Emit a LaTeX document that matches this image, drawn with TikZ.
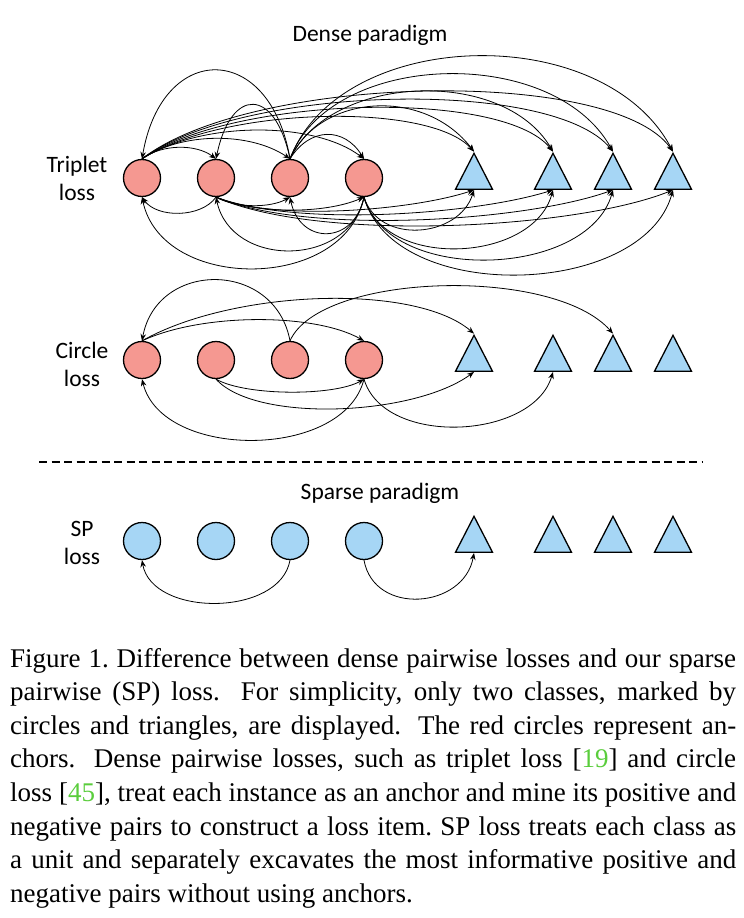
\documentclass[tikz,border=0pt]{standalone}
\usepackage{fontspec}
\setmainfont{Liberation Serif}
\newfontfamily\labelfont{Carlito}
\usetikzlibrary{arrows.meta,shapes.geometric}
\definecolor{anchorred}{RGB}{245,152,145}
\definecolor{sampleblue}{RGB}{166,214,245}
\definecolor{citegreen}{RGB}{90,205,60}
\tikzset{
	redcirc/.style={
		circle,
		draw=black,
		line width=1.3pt,
		fill=anchorred,
		minimum size=37pt,
		inner sep=0pt
	},
	bluecirc/.style={
		redcirc,
		fill=sampleblue
	},
	tri/.style={
		isosceles triangle,
		isosceles triangle stretches,
		shape border rotate=90,
		draw=black,
		line width=1.3pt,
		fill=sampleblue,
		minimum width=37pt,
		minimum height=36pt,
		inner sep=0pt
	},
	arrow/.style={
		draw=black,
		line width=0.8pt,
		-{Stealth[length=7pt,width=5.5pt]}
	},
	rowlabel/.style={
		font=\labelfont\fontsize{23.5}{28}\selectfont,
		align=center
	},
	title/.style={
		font=\labelfont\fontsize{23.5}{28}\selectfont
	},
}

\begin{document}
\begin{tikzpicture}[x=1pt,y=-1pt]
\useasboundingbox (0,0) rectangle (744,918);

% nodes of the three rows
\foreach \i/\x in {1/142,2/216,3/290,4/364} {
	\node [redcirc] (tc\i) at (\x,178) {};
	\node [redcirc] (cc\i) at (\x,360) {};
	\node [bluecirc] (sc\i) at (\x,541) {};
}
\foreach \i/\x in {1/474,2/553,3/613,4/673} {
	\node [tri] (tt\i) at (\x,178) {};
	\node [tri] (ct\i) at (\x,360) {};
	\node [tri] (st\i) at (\x,541) {};
}

\node [title] (dense) at (370,35) {Dense paradigm};
\node [rowlabel] (tlab) at (77,178) {Triplet\\loss};
\node [rowlabel] (clab) at (82,364) {Circle\\loss};
\node [title] (sparse) at (380,493) {Sparse paradigm};
\node [rowlabel] (slab) at (82,543) {SP\\loss};

% triplet loss, anchors 1 and 3 (above)
\draw[arrow] (tc1.north) .. controls +(20,-15) and +(-20,-15) .. (tc2.north);
\draw[arrow] (tc1.north) .. controls +(40,-27) and +(-40,-27) .. (tc3.north);
\draw[arrow] (tc1.north) .. controls +(60,-38) and +(-50,-38) .. (tc4.north);
\draw[arrow] (tc1.north) .. controls +(80,-52) and +(-45,-50) .. (tt1.north);
\draw[arrow] (tc1.north) .. controls +(90,-63) and +(-50,-63) .. (tt2.north);
\draw[arrow] (tc1.north) .. controls +(100,-74) and +(-60,-74) .. (tt3.north);
\draw[arrow] (tc1.north) .. controls +(110,-85) and +(-60,-85) .. (tt4.north);
\draw[arrow] (tc3.north) .. controls +(-20,-118) and +(20,-118) .. (tc1.north);
\draw[arrow] (tc3.north) .. controls +(-15,-72) and +(15,-72) .. (tc2.north);
\draw[arrow] (tc3.north) .. controls +(20,-32) and +(-20,-32) .. (tc4.north);
\draw[arrow] (tc3.north) .. controls +(30,-65) and +(-50,-65) .. (tt1.north);
\draw[arrow] (tc3.north) .. controls +(40,-85) and +(-50,-85) .. (tt2.north);
\draw[arrow] (tc3.north) .. controls +(40,-108) and +(-60,-108) .. (tt3.north);
\draw[arrow] (tc3.north) .. controls +(50,-132) and +(-70,-132) .. (tt4.north);

% triplet loss, anchors 2 and 4 (below)
\draw[arrow] (tc2.south) .. controls +(-15,21) and +(15,21) .. (tc1.south);
\draw[arrow] (tc2.south) .. controls +(20,11) and +(-20,11) .. (tc3.south);
\draw[arrow] (tc2.south) .. controls +(40,17) and +(-40,17) .. (tc4.south);
\draw[arrow] (tc2.south) .. controls +(60,25) and +(-60,20) .. (tt1.south);
\draw[arrow] (tc2.south) .. controls +(80,30) and +(-80,25) .. (tt2.south);
\draw[arrow] (tc2.south) .. controls +(90,38) and +(-90,32) .. (tt3.south);
\draw[arrow] (tc2.south) .. controls +(100,45) and +(-100,40) .. (tt4.south);
\draw[arrow] (tc4.south) .. controls +(-10,48) and +(10,48) .. (tc3.south);
\draw[arrow] (tc4.south) .. controls +(-15,71) and +(15,71) .. (tc2.south);
\draw[arrow] (tc4.south) .. controls +(-20,95) and +(20,95) .. (tc1.south);
\draw[arrow] (tc4.south) .. controls +(15,48) and +(-15,48) .. (tt1.south);
\draw[arrow] (tc4.south) .. controls +(20,73) and +(-20,73) .. (tt2.south);
\draw[arrow] (tc4.south) .. controls +(25,88) and +(-25,88) .. (tt3.south);
\draw[arrow] (tc4.south) .. controls +(30,108) and +(-30,108) .. (tt4.south);

% circle loss
\draw[arrow] (cc3.north) .. controls +(-15,-81) and +(15,-81) .. (cc1.north);
\draw[arrow] (cc1.north) .. controls +(60,-28) and +(-50,-28) .. (cc4.north);
\draw[arrow] (cc1.north) .. controls +(90,-51) and +(-60,-51) .. (ct1.north);
\draw[arrow] (cc3.north) .. controls +(30,-68) and +(-60,-68) .. (ct3.north);
\draw[arrow] (cc2.south) .. controls +(30,17) and +(-30,17) .. (cc4.south);
\draw[arrow] (cc2.south) .. controls +(40,44) and +(-60,44) .. (ct1.south);
\draw[arrow] (cc4.south) .. controls +(-20,81) and +(20,81) .. (cc1.south);
\draw[arrow] (cc4.south) .. controls +(20,68) and +(-20,68) .. (ct2.south);

% separator
\coordinate (sepL) at (39,462);
\coordinate (sepR) at (703,462);
\draw[line width=1.3pt,dash pattern=on 8pt off 4.5pt] (sepL) -- (sepR);

% sp loss
\draw[arrow] (sc3.south) .. controls +(-10,57) and +(10,57) .. (sc1.south);
\draw[arrow] (sc4.south) .. controls +(10,56) and +(-10,56) .. (st1.south);

% caption
\node [anchor=base west,inner sep=0pt] (caption) at (10,667) {\parbox[t]{726pt}{\fontsize{27}{33.6}\selectfont
Figure 1.\ Difference between dense pairwise losses and our sparse\linebreak
pairwise (SP) loss.  For simplicity, only two classes, marked by\linebreak
circles and triangles, are displayed.  The red circles represent an-\linebreak
chors.  Dense pairwise losses, such as triplet loss [\textcolor{citegreen}{19}] and circle\linebreak
loss [\textcolor{citegreen}{45}], treat each instance as an anchor and mine its positive and\linebreak
negative pairs to construct a loss item.\ SP loss treats each class as\linebreak
a unit and separately excavates the most informative positive and\linebreak
negative pairs without using anchors.}};
\end{tikzpicture}
\end{document}
